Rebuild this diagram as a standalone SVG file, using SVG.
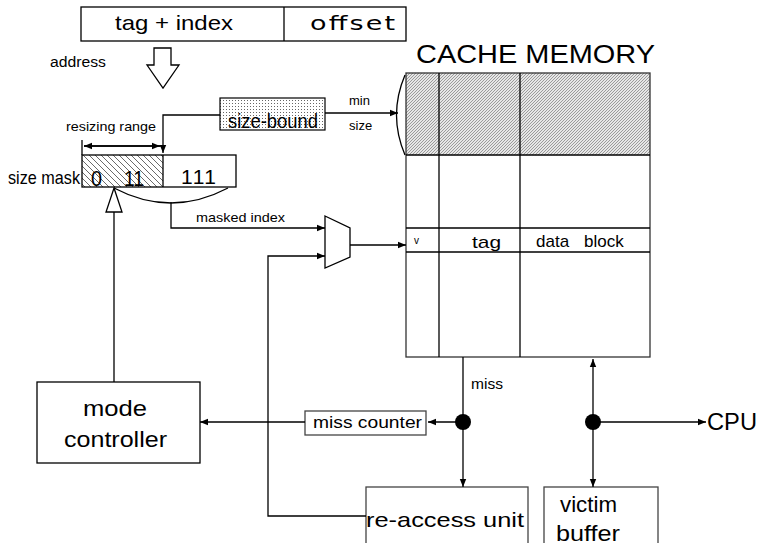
<svg xmlns="http://www.w3.org/2000/svg" width="764" height="543" viewBox="0 0 764 543">
<style>
.ln{fill:none;stroke:#000;stroke-width:1.3}
.bx{fill:#fff;stroke:#000;stroke-width:1.3}
.gb{fill:#fff;stroke:#444;stroke-width:1.3}
text{font-family:"Liberation Sans",Arial,sans-serif;fill:#000}
</style>
<defs>
<marker id="ah" viewBox="0 0 10 10" refX="10" refY="5" markerWidth="8" markerHeight="8" markerUnits="userSpaceOnUse" orient="auto">
<path d="M0,1 L10,5 L0,9 Z" fill="#000"/>
</marker>
<pattern id="fine" width="3" height="3" patternUnits="userSpaceOnUse">
<rect width="3" height="3" fill="#e6e6e6"/>
<path d="M-1,1 L1,-1 M0,3 L3,0 M2,4 L4,2" stroke="#666" stroke-width="0.6"/>
</pattern>
<pattern id="back" width="6" height="6" patternUnits="userSpaceOnUse">
<rect width="6" height="6" fill="#fff"/>
<path d="M-1,-1 L7,7 M-1,5 L1,7 M5,-1 L7,1" stroke="#444" stroke-width="0.8"/>
</pattern>
<pattern id="dots" width="3" height="3" patternUnits="userSpaceOnUse">
<rect width="3" height="3" fill="#fff"/>
<rect x="1" y="1" width="1" height="1" fill="#666"/>
</pattern>
</defs>

<g id="address">
<rect class="bx" x="81" y="7" width="325" height="34"/>
<line class="ln" x1="284" y1="7" x2="284" y2="41"/>
<text x="115" y="30" font-size="21" textLength="118" lengthAdjust="spacingAndGlyphs">tag + index</text>
<text transform="scale(1.35,1)" x="229.6" y="30" font-size="20" style="font-family:'DejaVu Sans',sans-serif" textLength="63" lengthAdjust="spacing">offset</text>
<text x="50" y="67" font-size="14" textLength="56" lengthAdjust="spacingAndGlyphs">address</text>
<path class="ln" d="M154,48 L171,48 L171,65 L179,65 L163,88 L147,65 L154,65 Z"/>
</g>

<g id="size-bound">
<rect x="220" y="98" width="105" height="32" fill="url(#dots)" stroke="#000" stroke-width="1.2"/>
<text x="228" y="128" font-size="20" textLength="90" lengthAdjust="spacingAndGlyphs">size-bound</text>
</g>

<g id="size-mask">
<rect x="82" y="155" width="81" height="32" fill="url(#back)"/>
<rect x="82" y="155" width="154" height="32" fill="none" stroke="#000" stroke-width="1.3"/>
<line class="ln" x1="163" y1="155" x2="163" y2="187"/>
<text x="91" y="186" font-size="22" textLength="11" lengthAdjust="spacingAndGlyphs">0</text>
<text x="124" y="186" font-size="22" textLength="20" lengthAdjust="spacingAndGlyphs">11</text>
<text x="181" y="184" font-size="21" textLength="35" lengthAdjust="spacing">111</text>
<text x="8" y="184" font-size="19" textLength="72" lengthAdjust="spacingAndGlyphs">size mask</text>
<text x="66" y="131" font-size="13" textLength="90" lengthAdjust="spacingAndGlyphs">resizing range</text>
<line class="ln" x1="82" y1="140" x2="82" y2="155"/>
<line class="ln" x1="163" y1="146" x2="84" y2="146" marker-end="url(#ah)"/>
<line class="ln" x1="84" y1="146" x2="160" y2="146" marker-end="url(#ah)"/>
<path class="ln" d="M114,188 Q171,218 228,188"/>
<text x="196" y="222" font-size="13" textLength="89" lengthAdjust="spacingAndGlyphs">masked index</text>
</g>

<g id="mux">
<path class="bx" d="M325,216 L350,228 L350,257 L325,268 Z"/>
</g>

<g id="cache">
<rect x="406" y="73" width="244" height="82" fill="url(#fine)"/>
<rect x="406" y="73" width="244" height="284" fill="none" stroke="#333" stroke-width="1.3"/>
<line class="ln" x1="406" y1="155" x2="650" y2="155"/>
<line class="ln" x1="439" y1="73" x2="439" y2="357" stroke="#333"/>
<line class="ln" x1="520" y1="73" x2="520" y2="357" stroke="#333"/>
<line class="ln" x1="406" y1="228" x2="650" y2="228" stroke="#444"/>
<line class="ln" x1="406" y1="252" x2="650" y2="252"/>
<text x="416" y="63" font-size="26" textLength="239" lengthAdjust="spacingAndGlyphs">CACHE MEMORY</text>
<text x="414" y="244" font-size="10">v</text>
<text x="472" y="248" font-size="17" textLength="29" lengthAdjust="spacingAndGlyphs">tag</text>
<text y="247" font-size="17"><tspan x="536">data</tspan><tspan x="584">block</tspan></text>
<path class="ln" d="M405,75 Q388,115 405,155"/>
<text x="349" y="105" font-size="13">min</text>
<text x="349" y="130" font-size="13">size</text>
</g>

<g id="mode-controller">
<rect class="bx" x="37" y="382" width="163" height="81"/>
<text x="83" y="416" font-size="22" textLength="64" lengthAdjust="spacingAndGlyphs">mode</text>
<text x="64" y="447" font-size="22" textLength="103" lengthAdjust="spacingAndGlyphs">controller</text>
</g>

<g id="miss-counter">
<rect class="gb" x="305" y="411" width="121" height="24"/>
<text x="313" y="428" font-size="16" textLength="109" lengthAdjust="spacingAndGlyphs">miss counter</text>
</g>

<g id="re-access-unit">
<rect class="gb" x="366" y="487" width="162" height="70"/>
<text x="366" y="527" font-size="21" textLength="158" lengthAdjust="spacingAndGlyphs">re-access unit</text>
</g>

<g id="victim-buffer">
<rect class="gb" x="544" y="487" width="114" height="70"/>
<text x="560" y="512" font-size="22" textLength="57" lengthAdjust="spacingAndGlyphs">victim</text>
<text x="556" y="541" font-size="22" textLength="64" lengthAdjust="spacingAndGlyphs">buffer</text>
</g>

<g id="cpu">
<text x="707" y="430" font-size="24" textLength="50" lengthAdjust="spacingAndGlyphs">CPU</text>
</g>

<g id="connectors">
<path class="ln" d="M220,115 L163,115 L163,153" marker-end="url(#ah)"/>
<line class="ln" x1="325" y1="113" x2="398" y2="113" marker-end="url(#ah)"/>
<path class="ln" d="M171,202 L171,228 L325,228" marker-end="url(#ah)" stroke="#444"/>
<path class="ln" d="M366,516 L268,516 L268,256 L325,256" marker-end="url(#ah)"/>
<line class="ln" x1="350" y1="245" x2="406" y2="245" marker-end="url(#ah)"/>
<line class="ln" x1="114" y1="382" x2="114" y2="212"/>
<path class="bx" d="M114,188 L122,212 L106,212 Z"/>
<line class="ln" x1="305" y1="422" x2="200" y2="422" marker-end="url(#ah)"/>
<line class="ln" x1="463" y1="422" x2="428" y2="422" marker-end="url(#ah)"/>
<line class="ln" x1="463" y1="357" x2="463" y2="487" marker-end="url(#ah)"/>
<text x="471" y="389" font-size="15" textLength="32" lengthAdjust="spacingAndGlyphs">miss</text>
<line class="ln" x1="593" y1="422" x2="593" y2="359" marker-end="url(#ah)"/>
<line class="ln" x1="593" y1="422" x2="593" y2="487" marker-end="url(#ah)"/>
<line class="ln" x1="593" y1="422" x2="706" y2="422" marker-end="url(#ah)"/>
<circle cx="463" cy="422" r="8" fill="#000"/>
<circle cx="593" cy="422" r="8" fill="#000"/>
</g>
</svg>
